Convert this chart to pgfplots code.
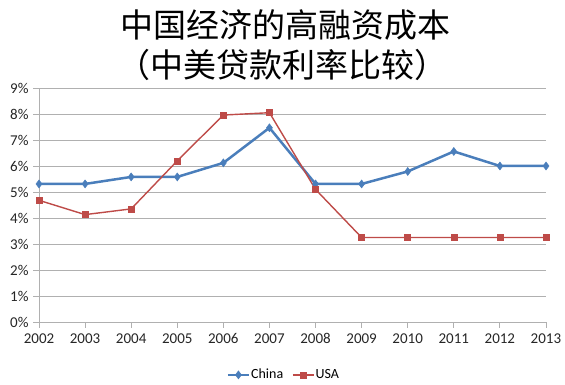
\documentclass[border=0pt]{standalone}
\usepackage{pgfplots}
\pgfplotsset{compat=1.18}
\usepackage{fontspec}
\setmainfont{Carlito}
\newfontfamily\cjk{Noto Sans CJK SC}
\definecolor{cblue}{HTML}{4A7EBB}
\definecolor{cred}{HTML}{BE4B48}
\definecolor{gridc}{HTML}{B0B0B0}
\begin{document}
\begin{tikzpicture}[x=1pt,y=1pt]
\useasboundingbox (0,0) rectangle (565,385);
\node[font=\cjk\fontsize{33}{36}\selectfont] at (285,360) {中国经济的高融资成本};
\node[font=\cjk\fontsize{33}{36}\selectfont] at (282,320) {（中美贷款利率比较）};
\begin{axis}[
  at={(39pt,63pt)}, anchor=south west,
  scale only axis, width=507pt, height=234pt,
  xmin=2002, xmax=2013, ymin=0, ymax=9,
  xtick={2002,...,2013},
  ytick={0,...,9},
  xticklabel style={/pgf/number format/1000 sep={}, yshift=-2pt},
  yticklabel={\pgfmathprintnumber{\tick}\%},
  yticklabel style={xshift=-1pt},
  /pgf/number format/assume math mode=true,
  tick label style={font=\fontsize{15}{17}\selectfont, text=black!85},
  ymajorgrids, grid style={gridc, line width=0.8pt},
  axis line style={gridc, line width=0.8pt},
  axis x line*=bottom, axis y line*=left,
  tick style={gridc, line width=0.8pt},
  xtick align=outside, ytick align=outside,
  major tick length=6pt,
  legend style={at={(0.482,-0.226)}, anchor=center, draw=none, font=\fontsize{14}{16}\selectfont, legend columns=2,
    /tikz/every even column/.append style={column sep=8pt}, inner sep=0pt, nodes={inner xsep=1pt}},
  legend image code/.code={\draw[mark repeat=2,mark phase=2,#1] plot coordinates {(0pt,0pt) (10.5pt,0pt) (21pt,0pt)};},
  legend cell align=left,
  clip=false,
]
\addplot[cblue, line width=2.5pt, mark=diamond*, mark size=4pt, mark options={line width=0.5pt}] coordinates {
(2002,5.31) (2003,5.31) (2004,5.58) (2005,5.58) (2006,6.12) (2007,7.47) (2008,5.31) (2009,5.31) (2010,5.79) (2011,6.56) (2012,6.00) (2013,6.00)};
\addlegendentry{China}
\addplot[cred, line width=1.4pt, mark=square*, mark size=3pt, mark options={line width=0.5pt}] coordinates {
(2002,4.68) (2003,4.13) (2004,4.35) (2005,6.20) (2006,7.96) (2007,8.05) (2008,5.10) (2009,3.25) (2010,3.25) (2011,3.25) (2012,3.25) (2013,3.25)};
\addlegendentry{USA}
\end{axis}
\end{tikzpicture}
\end{document}
